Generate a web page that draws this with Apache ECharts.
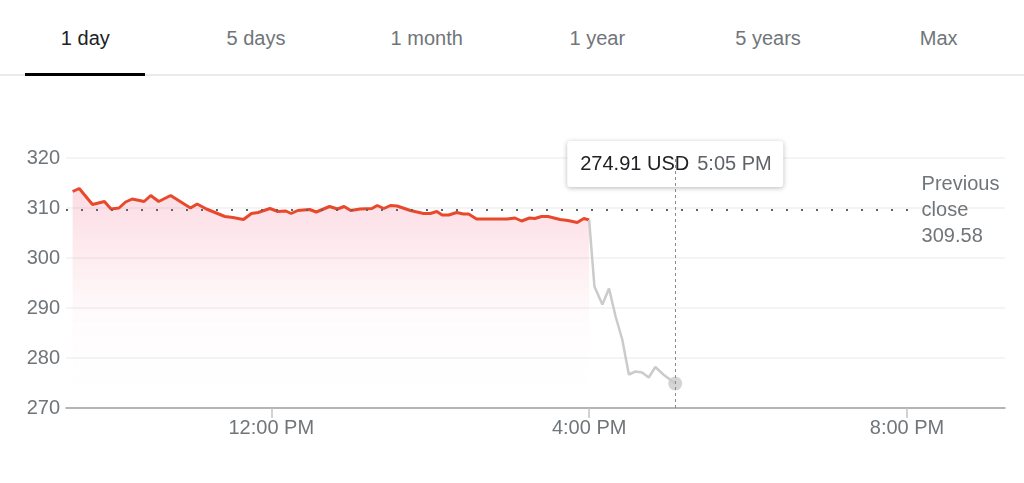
<!DOCTYPE html>
<html>
<head>
<meta charset="utf-8">
<script src="https://cdn.jsdelivr.net/npm/echarts@6/dist/echarts.min.js"></script>
<style>
html, body {
  margin: 0;
  padding: 0;
  background: #fff;
  font-family: "Liberation Sans", Arial, sans-serif;
}
.page {
  position: relative;
  width: 1024px;
  height: 483px;
  overflow: hidden;
}
.tabs {
  position: absolute;
  left: 0;
  top: 0;
  width: 1024px;
  height: 74px;
  border-bottom: 2px solid #ebebeb;
  display: flex;
}
.tab {
  width: 171px;
  text-align: center;
  font-size: 20px;
  line-height: 76px;
  color: #70757a;
  position: relative;
}
.tab.active {
  color: #202124;
}
.tab.active:after {
  content: "";
  position: absolute;
  left: 25px;
  width: 120px;
  bottom: -2px;
  height: 3px;
  background: #000;
}
.stockChart {
  position: absolute;
  left: 0;
  top: 0;
  width: 1024px;
  height: 483px;
}
</style>
</head>
<body>
<div class="page">
  <div class="tabs" id="tabs"></div>
  <div class="stockChart" id="stockChart"></div>
</div>
<script>
var tabNames = ["1 day", "5 days", "1 month", "1 year", "5 years", "Max"];
var activeTab = 0;

// trading session (times)
var dayTimes = ["9:30", "9:35", "9:45", "9:54", "9:59", "10:05", "10:10", "10:15", "10:24", "10:29",
  "10:35", "10:44", "10:59", "11:04", "11:11", "11:25", "11:31", "11:39", "11:45", "11:50",
  "11:59", "12:05", "12:11", "12:15", "12:20", "12:29", "12:34", "12:44", "12:50", "12:55",
  "13:00", "13:07", "13:16", "13:20", "13:25", "13:30", "13:35", "13:45", "13:55", "14:00",
  "14:05", "14:09", "14:14", "14:20", "14:25", "14:29", "14:35", "14:45", "14:58", "15:04",
  "15:09", "15:15", "15:19", "15:24", "15:29", "15:38", "15:44", "15:51", "15:56", "16:00"];
var dayPrices = [313.3, 313.9, 310.7, 311.3, 309.8, 310.0, 311.2, 311.8, 311.3, 312.5,
  311.3, 312.5, 310.0, 310.8, 309.8, 308.3, 308.1, 307.7, 308.9, 309.1,
  309.9, 309.3, 309.4, 308.9, 309.5, 309.7, 309.2, 310.3, 309.8, 310.3,
  309.5, 309.8, 309.9, 310.5, 309.9, 310.5, 310.4, 309.5, 308.9, 308.9,
  309.3, 308.6, 308.6, 309.1, 308.8, 308.8, 307.8, 307.8, 307.8, 308.0,
  307.4, 308.0, 307.9, 308.3, 308.3, 307.7, 307.5, 307.1, 307.9, 307.6];

// after hours
var afterTimes = ["16:00", "16:04", "16:10", "16:15", "16:20", "16:25", "16:30", "16:35",
  "16:40", "16:45", "16:50", "16:56", "17:05"];
var afterPrices = [307.6, 294.3, 290.7, 293.9, 288.3, 283.7, 276.7, 277.3,
  277.1, 276.1, 278.2, 276.7, 274.91];

var previousClose = 309.58;
var yTicks = [270, 280, 290, 300, 310, 320];
var xTicks = ["12:00", "16:00", "20:00"];
var currency = "USD";

function toMinutes(t) {
  var p = t.split(":");
  return parseInt(p[0], 10) * 60 + parseInt(p[1], 10);
}
function fmtTime(m) {
  var h = Math.floor(m / 60);
  var mm = m % 60;
  var ampm = h >= 12 ? "PM" : "AM";
  var h12 = h % 12 === 0 ? 12 : h % 12;
  return h12 + ":" + (mm < 10 ? "0" + mm : mm) + " " + ampm;
}
function pairs(times, values) {
  var out = [];
  for (var i = 0; i < times.length; i++) {
    out.push([toMinutes(times[i]), values[i]]);
  }
  return out;
}

// tabs
var tabsEl = document.getElementById("tabs");
tabNames.forEach(function(name, i) {
  var d = document.createElement("div");
  d.className = "tab" + (i === activeTab ? " active" : "");
  d.textContent = name;
  tabsEl.appendChild(d);
});

var dayData = pairs(dayTimes, dayPrices);
var afterData = pairs(afterTimes, afterPrices);
var lastPoint = afterData[afterData.length - 1];
var xMin = toMinutes("9:25");
var xMax = toMinutes("21:14");
var xTickValues = xTicks.map(toMinutes);

var chart = echarts.init(document.getElementById("stockChart"));
chart.setOption({
  animation: false,
  textStyle: { fontFamily: "Liberation Sans, Arial, sans-serif" },
  grid: { left: 66, right: 19, top: 158, bottom: 75 },
  xAxis: {
    type: "value",
    min: xMin,
    max: xMax,
    axisLine: { lineStyle: { color: "#a0a0a0", width: 1.5 } },
    axisTick: {
      show: true,
      length: 10,
      customValues: xTickValues,
      lineStyle: { color: "#c4c4c4", width: 1.5 }
    },
    axisLabel: {
      customValues: xTickValues,
      color: "#70757a",
      fontSize: 20,
      margin: 10,
      formatter: function(v) { return fmtTime(v); }
    },
    splitLine: { show: false }
  },
  yAxis: {
    type: "value",
    min: yTicks[0],
    max: yTicks[yTicks.length - 1],
    interval: 10,
    axisLine: { show: false },
    axisTick: { show: false },
    axisLabel: { color: "#70757a", fontSize: 20, margin: 6 },
    splitLine: { lineStyle: { color: "#f0f0f0", width: 1.5 } }
  },
  series: [
    {
      name: "day",
      type: "line",
      data: dayData,
      showSymbol: false,
      symbol: "none",
      lineStyle: { color: "#e9492b", width: 3 },
      itemStyle: { color: "#e9492b" },
      areaStyle: {
        color: new echarts.graphic.LinearGradient(0, 0, 0, 1, [
          { offset: 0, color: "rgba(238, 90, 125, 0.30)" },
          { offset: 0.6, color: "rgba(238, 90, 125, 0.03)" },
          { offset: 1, color: "rgba(255, 255, 255, 0)" }
        ])
      },
      z: 3,
      markLine: {
        silent: true,
        symbol: "none",
        lineStyle: { color: "#5f6368", type: [2, 13], width: 2, cap: "butt" },
        label: {
          show: true,
          position: "end",
          distance: 4,
          formatter: "Previous\nclose\n" + previousClose,
          color: "#70757a",
          fontSize: 20,
          lineHeight: 26,
          align: "left"
        },
        data: [[
          { coord: [xMin, previousClose] },
          { coord: [toMinutes("20:08"), previousClose] }
        ]]
      }
    },
    {
      name: "after",
      type: "line",
      data: afterData,
      showSymbol: false,
      symbol: "none",
      lineStyle: { color: "#cbcbcb", width: 2.5 },
      z: 3,
      markLine: {
        silent: true,
        symbol: "none",
        label: { show: false },
        lineStyle: { color: "#8a8a8a", type: [3, 3], width: 1 },
        data: [{ xAxis: lastPoint[0] }]
      }
    },
    {
      name: "last",
      type: "scatter",
      data: [lastPoint],
      symbolSize: 14,
      itemStyle: { color: "#cbcbcb" },
      z: 4
    }
  ]
});

// tooltip box over the last point
var px = chart.convertToPixel({ gridIndex: 0 }, lastPoint);
var boxW = 216, boxH = 46, boxTop = 141;
chart.setOption({
  graphic: [
    {
      type: "group",
      left: px[0] - boxW / 2,
      top: boxTop,
      z: 100,
      children: [
        {
          type: "rect",
          shape: { x: 0, y: 0, width: boxW, height: boxH, r: 3 },
          style: {
            fill: "#fff",
            shadowBlur: 5,
            shadowOffsetY: 1,
            shadowColor: "rgba(0,0,0,0.28)"
          }
        },
        {
          type: "text",
          x: 13,
          y: boxH / 2,
          style: {
            text: lastPoint[1].toFixed(2) + " " + currency,
            fill: "#202124",
            fontSize: 20,
            fontFamily: "Liberation Sans, Arial, sans-serif",
            verticalAlign: "middle"
          }
        },
        {
          type: "text",
          x: 130,
          y: boxH / 2,
          style: {
            text: fmtTime(lastPoint[0]),
            fill: "#5f6368",
            fontSize: 20,
            fontFamily: "Liberation Sans, Arial, sans-serif",
            verticalAlign: "middle"
          }
        }
      ]
    }
  ]
});
</script>
</body>
</html>
